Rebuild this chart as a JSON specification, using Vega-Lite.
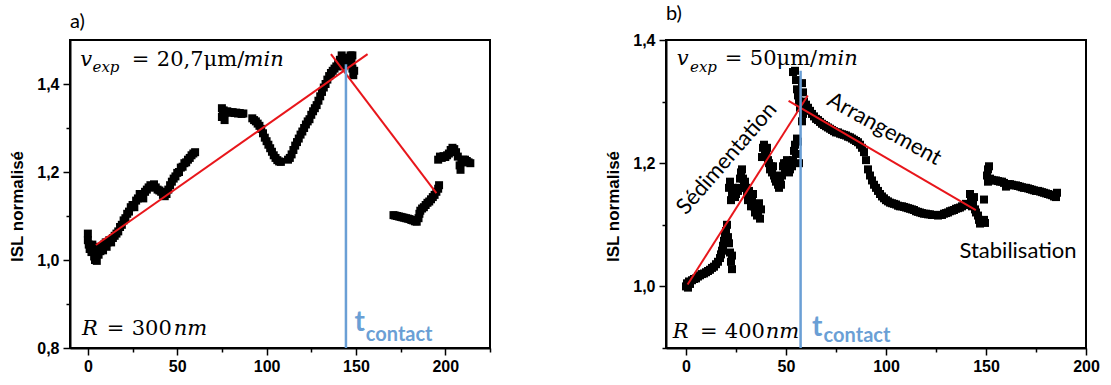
{
  "$schema": "https://vega.github.io/schema/vega-lite/v6.json",
  "padding": {"left": 7, "top": 3, "right": 5, "bottom": 2},
  "background": "white",
  "spacing": 111,
  "config": {
    "view": {"stroke": "black", "strokeWidth": 2},
    "axis": {"grid": false, "domainColor": "black", "domainWidth": 2, "tickColor": "black", "tickWidth": 1.5,
      "labelFont": "Liberation Sans", "labelFontWeight": "bold", "labelFontSize": 16, "labelColor": "black",
      "titleFont": "Liberation Sans", "titleFontWeight": "bold", "titleFontSize": 17, "titleColor": "black",
      "labelOverlap": false, "labelFlush": false},
    "title": {"font": "Lato", "fontSize": 20, "fontWeight": "normal", "color": "black", "anchor": "start", "frame": "group", "offset": 8}
  },
  "datasets": {
    "aPts": [
      {"t":0,"isl":1.06},{"t":0,"isl":1.045},{"t":0.5,"isl":1.035},{"t":1,"isl":1.025},{"t":1.5,"isl":1.03},{"t":2,"isl":1.018},{"t":2.5,"isl":1.035},{"t":3,"isl":1.02},{"t":3.5,"isl":1.008},{"t":4,"isl":1.0},{"t":4.5,"isl":1.005},{"t":5,"isl":0.998},{"t":5.5,"isl":1.02},{"t":6,"isl":1.012},{"t":6.5,"isl":1.03},{"t":7,"isl":1.02},{"t":8,"isl":1.03},{"t":8.5,"isl":1.022},{"t":9,"isl":1.035},{"t":10,"isl":1.04},{"t":10.5,"isl":1.03},{"t":11,"isl":1.04},{"t":12,"isl":1.045},{"t":13,"isl":1.04},{"t":14,"isl":1.05},{"t":15,"isl":1.055},{"t":16,"isl":1.06},{"t":17,"isl":1.065},{"t":18,"isl":1.075},{"t":19,"isl":1.08},{"t":20,"isl":1.09},{"t":21,"isl":1.095},{"t":22,"isl":1.105},{"t":23,"isl":1.11},{"t":24,"isl":1.12},{"t":25,"isl":1.125},{"t":26,"isl":1.12},{"t":27,"isl":1.135},{"t":28,"isl":1.14},{"t":29,"isl":1.15},{"t":30,"isl":1.145},{"t":31,"isl":1.14},{"t":32,"isl":1.155},{"t":33,"isl":1.16},{"t":34,"isl":1.165},{"t":35,"isl":1.17},{"t":36,"isl":1.165},{"t":37,"isl":1.172},{"t":38,"isl":1.165},{"t":39,"isl":1.16},{"t":40,"isl":1.158},{"t":41,"isl":1.155},{"t":42,"isl":1.148},{"t":43,"isl":1.145},{"t":44,"isl":1.15},{"t":45,"isl":1.16},{"t":46,"isl":1.17},{"t":47,"isl":1.178},{"t":48,"isl":1.185},{"t":49,"isl":1.19},{"t":50,"isl":1.198},{"t":51,"isl":1.2},{"t":52,"isl":1.21},{"t":53,"isl":1.212},{"t":54,"isl":1.22},{"t":55,"isl":1.222},{"t":56,"isl":1.228},{"t":57,"isl":1.232},{"t":58,"isl":1.238},{"t":59,"isl":1.242},{"t":60,"isl":1.245},
      {"t":75,"isl":1.345},{"t":75,"isl":1.325},{"t":75.5,"isl":1.33},{"t":76,"isl":1.34},{"t":76.5,"isl":1.318},{"t":77,"isl":1.335},{"t":78,"isl":1.338},{"t":79,"isl":1.336},{"t":80,"isl":1.335},{"t":81,"isl":1.336},{"t":82,"isl":1.334},{"t":83,"isl":1.335},{"t":84,"isl":1.333},{"t":85,"isl":1.334},{"t":86,"isl":1.332},{"t":87,"isl":1.333},
      {"t":92,"isl":1.322},{"t":93,"isl":1.318},{"t":94,"isl":1.315},{"t":95,"isl":1.31},{"t":96,"isl":1.305},{"t":97,"isl":1.298},{"t":98,"isl":1.288},{"t":99,"isl":1.278},{"t":100,"isl":1.27},{"t":101,"isl":1.262},{"t":102,"isl":1.254},{"t":103,"isl":1.246},{"t":104,"isl":1.238},{"t":105,"isl":1.232},{"t":106,"isl":1.227},{"t":107,"isl":1.224},{"t":108,"isl":1.223},
      {"t":112,"isl":1.228},{"t":113,"isl":1.232},{"t":114,"isl":1.24},{"t":115,"isl":1.25},{"t":116,"isl":1.26},{"t":117,"isl":1.268},{"t":118,"isl":1.276},{"t":119,"isl":1.285},{"t":120,"isl":1.292},{"t":121,"isl":1.3},{"t":122,"isl":1.308},{"t":123,"isl":1.315},{"t":124,"isl":1.32},{"t":125,"isl":1.33},{"t":126,"isl":1.338},{"t":127,"isl":1.345},{"t":128,"isl":1.352},{"t":129,"isl":1.362},{"t":130,"isl":1.372},{"t":131,"isl":1.382},{"t":132,"isl":1.392},{"t":133,"isl":1.4},{"t":134,"isl":1.41},{"t":135,"isl":1.418},{"t":136,"isl":1.425},{"t":137,"isl":1.43},{"t":138,"isl":1.435},{"t":139,"isl":1.44},{"t":140,"isl":1.445},
      {"t":141,"isl":1.455},{"t":142,"isl":1.465},{"t":143,"isl":1.44},{"t":144,"isl":1.455},{"t":145,"isl":1.46},{"t":146,"isl":1.445},{"t":147,"isl":1.465},{"t":147.5,"isl":1.45},{"t":148,"isl":1.435},{"t":148.5,"isl":1.42},{"t":148,"isl":1.465},{"t":149,"isl":1.43},
      {"t":171,"isl":1.102},{"t":172,"isl":1.101},{"t":173,"isl":1.1},{"t":174,"isl":1.099},{"t":175,"isl":1.098},{"t":176,"isl":1.097},{"t":177,"isl":1.096},{"t":178,"isl":1.095},{"t":179,"isl":1.094},{"t":180,"isl":1.093},{"t":181,"isl":1.091},{"t":182,"isl":1.09},{"t":183,"isl":1.088},{"t":184,"isl":1.087},{"t":185,"isl":1.095},{"t":185.5,"isl":1.105},{"t":186,"isl":1.112},{"t":187,"isl":1.117},{"t":188,"isl":1.12},{"t":189,"isl":1.125},{"t":190,"isl":1.13},{"t":191,"isl":1.133},{"t":192,"isl":1.138},{"t":193,"isl":1.143},{"t":194,"isl":1.148},{"t":195,"isl":1.155},{"t":196,"isl":1.162},{"t":196.5,"isl":1.17},
      {"t":196,"isl":1.228},{"t":197,"isl":1.235},{"t":198,"isl":1.232},{"t":199,"isl":1.236},{"t":200,"isl":1.234},{"t":201,"isl":1.238},{"t":202,"isl":1.242},{"t":203,"isl":1.25},{"t":204,"isl":1.255},{"t":205,"isl":1.252},{"t":206,"isl":1.245},{"t":207,"isl":1.235},{"t":208,"isl":1.215},{"t":208.5,"isl":1.205},{"t":209,"isl":1.222},{"t":210,"isl":1.228},{"t":211,"isl":1.228},{"t":212,"isl":1.225},{"t":213,"isl":1.222},{"t":214,"isl":1.22}
    ],
    "aFit": [
      {"seg":"1","t":4.5,"isl":1.034},{"seg":"1","t":156.5,"isl":1.468},
      {"seg":"2","t":136,"isl":1.468},{"seg":"2","t":195,"isl":1.152}
    ],
    "aRule": [{"t":144.4,"isl":0.8,"isl2":1.445}],
    "aIt": [{"t":-4.25,"isl":1.441,"s":"v"},{"t":87.1,"isl":1.441,"s":"min"},{"t":-3.35,"isl":0.8288,"s":"R"},{"t":48,"isl":0.8288,"s":"nm"}],
    "aUp": [{"t":24.6,"isl":1.441,"s":"="},{"t":38.6,"isl":1.441,"s":"20,7μm/"},{"t":10.6,"isl":0.8288,"s":"="},{"t":24.5,"isl":0.8288,"s":"300"}],
    "aSub": [{"t":2.6,"isl":1.4274,"s":"exp"}],
    "aT": [{"t":149.2,"isl":0.8385,"s":"t"}],
    "aC": [{"t":155.5,"isl":0.8159,"s":"contact"}],
    "bPts": [
      {"t":0,"isl":1.0},{"t":0.5,"isl":1.005},{"t":1,"isl":0.998},{"t":1.5,"isl":1.008},{"t":2,"isl":1.004},{"t":3,"isl":1.01},{"t":4,"isl":1.012},{"t":5,"isl":1.013},{"t":6,"isl":1.016},{"t":7,"isl":1.018},{"t":8,"isl":1.02},{"t":9,"isl":1.021},{"t":10,"isl":1.023},{"t":11,"isl":1.025},{"t":12,"isl":1.027},{"t":13,"isl":1.03},{"t":14,"isl":1.032},{"t":15,"isl":1.036},{"t":16,"isl":1.04},{"t":17,"isl":1.046},{"t":17.5,"isl":1.052},{"t":18,"isl":1.058},{"t":18.5,"isl":1.066},{"t":19,"isl":1.074},{"t":19.5,"isl":1.082},{"t":20,"isl":1.09},{"t":20.5,"isl":1.1},{"t":21,"isl":1.08},{"t":21.5,"isl":1.07},{"t":22,"isl":1.055},{"t":22.5,"isl":1.04},{"t":23,"isl":1.028},{"t":23,"isl":1.05},
      {"t":21.5,"isl":1.16},{"t":22,"isl":1.17},{"t":22.5,"isl":1.14},{"t":23,"isl":1.15},{"t":23.5,"isl":1.16},{"t":24,"isl":1.155},{"t":24.5,"isl":1.145},{"t":25,"isl":1.15},{"t":26,"isl":1.155},{"t":26.5,"isl":1.16},{"t":27,"isl":1.175},{"t":27.5,"isl":1.185},{"t":28,"isl":1.19},{"t":28.5,"isl":1.175},{"t":29,"isl":1.165},{"t":29.5,"isl":1.17},{"t":30,"isl":1.16},{"t":30.5,"isl":1.15},{"t":31,"isl":1.14},{"t":31.5,"isl":1.155},{"t":32,"isl":1.145},{"t":32.5,"isl":1.13},{"t":33,"isl":1.14},{"t":33.5,"isl":1.15},{"t":34,"isl":1.13},{"t":34.5,"isl":1.12},{"t":35,"isl":1.125},{"t":35.5,"isl":1.115},{"t":36,"isl":1.12},{"t":36.5,"isl":1.135},{"t":37,"isl":1.11},{"t":37.5,"isl":1.125},
      {"t":38,"isl":1.21},{"t":38.5,"isl":1.225},{"t":39,"isl":1.23},{"t":39.5,"isl":1.22},{"t":40,"isl":1.215},{"t":40.5,"isl":1.225},{"t":41,"isl":1.205},{"t":41.5,"isl":1.2},{"t":42,"isl":1.19},{"t":42.5,"isl":1.195},{"t":43,"isl":1.185},{"t":43.5,"isl":1.195},{"t":44,"isl":1.18},{"t":44.5,"isl":1.175},{"t":45,"isl":1.17},{"t":45.5,"isl":1.175},{"t":46,"isl":1.165},{"t":46.5,"isl":1.16},{"t":47,"isl":1.17},{"t":47.5,"isl":1.165},{"t":48,"isl":1.18},{"t":48.5,"isl":1.195},{"t":49,"isl":1.2},{"t":49.5,"isl":1.19},{"t":50,"isl":1.2},{"t":50.5,"isl":1.205},{"t":51,"isl":1.19},{"t":51.5,"isl":1.185},{"t":52,"isl":1.19},{"t":52.5,"isl":1.2},{"t":53,"isl":1.195},{"t":53.5,"isl":1.205},{"t":54,"isl":1.22},{"t":54.5,"isl":1.23},{"t":55,"isl":1.215},{"t":55.5,"isl":1.24},{"t":56,"isl":1.235},{"t":56.5,"isl":1.2},
      {"t":53.5,"isl":1.348},{"t":54.5,"isl":1.35},{"t":55,"isl":1.335},{"t":55.5,"isl":1.32},{"t":56,"isl":1.31},{"t":56.5,"isl":1.3},{"t":57,"isl":1.29},{"t":58,"isl":1.33},{"t":58.5,"isl":1.315},{"t":59,"isl":1.3},{"t":58.5,"isl":1.28},{"t":58,"isl":1.268},{"t":59.5,"isl":1.29},{"t":60,"isl":1.295},{"t":61,"isl":1.29},{"t":62,"isl":1.285},
      {"t":63,"isl":1.28},{"t":64,"isl":1.276},{"t":65,"isl":1.272},{"t":66,"isl":1.27},{"t":67,"isl":1.267},{"t":68,"isl":1.264},{"t":69,"isl":1.262},{"t":70,"isl":1.26},{"t":71,"isl":1.258},{"t":72,"isl":1.256},{"t":73,"isl":1.254},{"t":74,"isl":1.252},{"t":75,"isl":1.25},{"t":76,"isl":1.25},{"t":77,"isl":1.248},{"t":78,"isl":1.247},{"t":79,"isl":1.246},{"t":80,"isl":1.245},{"t":81,"isl":1.243},{"t":82,"isl":1.242},{"t":83,"isl":1.24},{"t":84,"isl":1.238},{"t":85,"isl":1.236},{"t":86,"isl":1.234},{"t":87,"isl":1.23},{"t":88,"isl":1.225},{"t":89,"isl":1.218},{"t":90,"isl":1.205},{"t":91,"isl":1.19},{"t":92,"isl":1.18},{"t":93,"isl":1.172},{"t":94,"isl":1.165},{"t":95,"isl":1.16},{"t":96,"isl":1.155},{"t":97,"isl":1.15},{"t":98,"isl":1.146},{"t":99,"isl":1.143},{"t":100,"isl":1.14},{"t":101,"isl":1.138},{"t":102,"isl":1.136},{"t":103,"isl":1.135},{"t":104,"isl":1.134},{"t":105,"isl":1.133},{"t":106,"isl":1.131},{"t":107,"isl":1.13},{"t":108,"isl":1.13},{"t":109,"isl":1.129},{"t":110,"isl":1.128},{"t":111,"isl":1.127},{"t":112,"isl":1.126},{"t":113,"isl":1.125},{"t":114,"isl":1.124},{"t":115,"isl":1.122},{"t":116,"isl":1.121},{"t":117,"isl":1.12},{"t":118,"isl":1.119},{"t":119,"isl":1.118},{"t":120,"isl":1.118},{"t":121,"isl":1.117},{"t":122,"isl":1.117},{"t":123,"isl":1.116},{"t":124,"isl":1.116},{"t":125,"isl":1.116},{"t":126,"isl":1.115},{"t":127,"isl":1.116},{"t":128,"isl":1.116},{"t":129,"isl":1.118},{"t":130,"isl":1.119},{"t":131,"isl":1.12},{"t":132,"isl":1.122},{"t":133,"isl":1.123},{"t":134,"isl":1.124},{"t":135,"isl":1.126},{"t":136,"isl":1.127},{"t":137,"isl":1.128},{"t":138,"isl":1.13},{"t":139,"isl":1.132},{"t":140,"isl":1.134},
      {"t":142,"isl":1.15},{"t":142.5,"isl":1.14},{"t":143,"isl":1.13},{"t":143.5,"isl":1.135},{"t":144,"isl":1.145},{"t":144.5,"isl":1.125},{"t":145,"isl":1.12},{"t":146,"isl":1.115},{"t":146.5,"isl":1.108},{"t":147,"isl":1.102},{"t":148,"isl":1.105},{"t":149,"isl":1.108},{"t":149.5,"isl":1.103},{"t":149,"isl":1.141},
      {"t":150.5,"isl":1.18},{"t":151,"isl":1.19},{"t":151,"isl":1.17},{"t":151.5,"isl":1.195},{"t":152,"isl":1.175},{"t":153,"isl":1.173},{"t":154,"isl":1.172},{"t":155,"isl":1.172},{"t":156,"isl":1.171},{"t":157,"isl":1.17},{"t":158,"isl":1.17},{"t":159,"isl":1.168},{"t":160,"isl":1.162},{"t":161,"isl":1.166},{"t":162,"isl":1.166},{"t":163,"isl":1.165},{"t":164,"isl":1.164},{"t":165,"isl":1.164},{"t":166,"isl":1.163},{"t":167,"isl":1.162},{"t":168,"isl":1.161},{"t":169,"isl":1.16},{"t":170,"isl":1.16},{"t":171,"isl":1.159},{"t":172,"isl":1.158},{"t":173,"isl":1.157},{"t":174,"isl":1.156},{"t":175,"isl":1.155},{"t":176,"isl":1.155},{"t":177,"isl":1.154},{"t":178,"isl":1.153},{"t":179,"isl":1.152},{"t":180,"isl":1.151},{"t":181,"isl":1.15},{"t":182,"isl":1.149},{"t":183,"isl":1.148},{"t":184,"isl":1.146},{"t":185,"isl":1.145},{"t":185.5,"isl":1.152}
    ],
    "bFit": [
      {"seg":"1","t":0.8,"isl":1.003},{"seg":"1","t":60.9,"isl":1.31},
      {"seg":"2","t":51.3,"isl":1.301},{"seg":"2","t":144.9,"isl":1.124}
    ],
    "bRule": [{"t":57.3,"isl":0.9,"isl2":1.35}],
    "bIt": [{"t":-4.64,"isl":1.3595,"s":"v"},{"t":65.8,"isl":1.3595,"s":"min"},{"t":-6.6,"isl":0.9162,"s":"R"},{"t":39.9,"isl":0.9162,"s":"nm"}],
    "bUp": [{"t":19.4,"isl":1.3595,"s":"="},{"t":31.9,"isl":1.3595,"s":"50μm/"},{"t":7.0,"isl":0.9162,"s":"="},{"t":19.4,"isl":0.9162,"s":"400"}],
    "bSub": [{"t":2.0,"isl":1.3488,"s":"exp"}],
    "bT": [{"t":63,"isl":0.9195,"s":"t"}],
    "bC": [{"t":68.8,"isl":0.9097,"s":"contact"}],
    "bSed": [{"t":20.3,"isl":1.208,"s":"Sédimentation"}],
    "bArr": [{"t":99.2,"isl":1.2557,"s":"Arrangement"}],
    "bStab": [{"t":166,"isl":1.046,"s":"Stabilisation"}]
  },
  "hconcat": [
    {
      "width": 420, "height": 308,
      "title": {"text": "a)"},
      "encoding": {
        "x": {"field": "t", "type": "quantitative", "scale": {"domain": [-10, 225], "nice": false, "zero": false},
          "axis": {"title": null, "values": [0,25,50,75,100,125,150,175,200,225],
            "labelExpr": "datum.value % 50 == 0 ? datum.label : ''",
            "tickSize": {"condition": {"test": "datum.value % 50 == 0", "value": 7}, "value": 4}, "labelPadding": 3}},
        "y": {"field": "isl", "type": "quantitative", "scale": {"domain": [0.8, 1.5], "nice": false, "zero": false},
          "axis": {"title": "ISL normalisé", "values": [0.8,0.9,1.0,1.1,1.2,1.3,1.4],
            "labelExpr": "round(datum.value*10)%2==0 ? replace(format(datum.value,'.1f'),'.',',') : ''",
            "tickSize": {"condition": {"test": "round(datum.value*10)%2==0", "value": 7}, "value": 4},
            "labelPadding": 4, "titlePadding": 10, "titleY": 166}}
      },
      "layer": [
        {"data": {"name": "aPts"}, "mark": {"type": "square", "size": 64, "color": "black", "opacity": 1}},
        {"data": {"name": "aFit"}, "mark": {"type": "line", "color": "#e8161b", "strokeWidth": 2}, "encoding": {"detail": {"field": "seg"}}},
        {"data": {"name": "aRule"}, "mark": {"type": "rule", "color": "#6a9fd5", "strokeWidth": 2.5}, "encoding": {"y2": {"field": "isl2"}}},
        {"data": {"name": "aIt"}, "mark": {"type": "text", "font": "DejaVu Serif", "fontStyle": "italic", "fontSize": 21, "align": "left", "baseline": "alphabetic", "color": "black"}, "encoding": {"text": {"field": "s"}}},
        {"data": {"name": "aUp"}, "mark": {"type": "text", "font": "DejaVu Serif", "fontSize": 21, "align": "left", "baseline": "alphabetic", "color": "black"}, "encoding": {"text": {"field": "s"}}},
        {"data": {"name": "aSub"}, "mark": {"type": "text", "font": "DejaVu Serif", "fontStyle": "italic", "fontSize": 15, "align": "left", "baseline": "alphabetic", "color": "black"}, "encoding": {"text": {"field": "s"}}},
        {"data": {"name": "aT"}, "mark": {"type": "text", "font": "Lato", "fontWeight": "bold", "fontSize": 28, "align": "left", "baseline": "alphabetic", "color": "#6a9fd5"}, "encoding": {"text": {"field": "s"}}},
        {"data": {"name": "aC"}, "mark": {"type": "text", "font": "Lato", "fontWeight": "bold", "fontSize": 20, "align": "left", "baseline": "alphabetic", "color": "#6a9fd5"}, "encoding": {"text": {"field": "s"}}}
      ]
    },
    {
      "width": 420, "height": 308,
      "title": {"text": "b)"},
      "encoding": {
        "x": {"field": "t", "type": "quantitative", "scale": {"domain": [-10, 200], "nice": false, "zero": false},
          "axis": {"title": null, "values": [0,25,50,75,100,125,150,175,200],
            "labelExpr": "datum.value % 50 == 0 ? datum.label : ''",
            "tickSize": {"condition": {"test": "datum.value % 50 == 0", "value": 7}, "value": 4}, "labelPadding": 3}},
        "y": {"field": "isl", "type": "quantitative", "scale": {"domain": [0.9, 1.4], "nice": false, "zero": false},
          "axis": {"title": "ISL normalisé", "values": [0.9,1.0,1.1,1.2,1.3,1.4],
            "labelExpr": "round(datum.value*10)%2==0 ? replace(format(datum.value,'.1f'),'.',',') : ''",
            "tickSize": {"condition": {"test": "round(datum.value*10)%2==0", "value": 7}, "value": 4},
            "labelPadding": 4, "titlePadding": 10, "titleY": 166}}
      },
      "layer": [
        {"data": {"name": "bPts"}, "mark": {"type": "square", "size": 64, "color": "black", "opacity": 1}},
        {"data": {"name": "bFit"}, "mark": {"type": "line", "color": "#e8161b", "strokeWidth": 2}, "encoding": {"detail": {"field": "seg"}}},
        {"data": {"name": "bRule"}, "mark": {"type": "rule", "color": "#6a9fd5", "strokeWidth": 2.5}, "encoding": {"y2": {"field": "isl2"}}},
        {"data": {"name": "bIt"}, "mark": {"type": "text", "font": "DejaVu Serif", "fontStyle": "italic", "fontSize": 21, "align": "left", "baseline": "alphabetic", "color": "black"}, "encoding": {"text": {"field": "s"}}},
        {"data": {"name": "bUp"}, "mark": {"type": "text", "font": "DejaVu Serif", "fontSize": 21, "align": "left", "baseline": "alphabetic", "color": "black"}, "encoding": {"text": {"field": "s"}}},
        {"data": {"name": "bSub"}, "mark": {"type": "text", "font": "DejaVu Serif", "fontStyle": "italic", "fontSize": 15, "align": "left", "baseline": "alphabetic", "color": "black"}, "encoding": {"text": {"field": "s"}}},
        {"data": {"name": "bT"}, "mark": {"type": "text", "font": "Lato", "fontWeight": "bold", "fontSize": 28, "align": "left", "baseline": "alphabetic", "color": "#6a9fd5"}, "encoding": {"text": {"field": "s"}}},
        {"data": {"name": "bC"}, "mark": {"type": "text", "font": "Lato", "fontWeight": "bold", "fontSize": 20, "align": "left", "baseline": "alphabetic", "color": "#6a9fd5"}, "encoding": {"text": {"field": "s"}}},
        {"data": {"name": "bSed"}, "mark": {"type": "text", "font": "Lato", "fontSize": 22, "angle": 311, "align": "center", "baseline": "middle", "color": "black"}, "encoding": {"text": {"field": "s"}}},
        {"data": {"name": "bArr"}, "mark": {"type": "text", "font": "Lato", "fontSize": 22, "angle": 29, "align": "center", "baseline": "middle", "color": "black"}, "encoding": {"text": {"field": "s"}}},
        {"data": {"name": "bStab"}, "mark": {"type": "text", "font": "Lato", "fontSize": 22, "align": "center", "baseline": "alphabetic", "color": "black"}, "encoding": {"text": {"field": "s"}}}
      ]
    }
  ]
}
